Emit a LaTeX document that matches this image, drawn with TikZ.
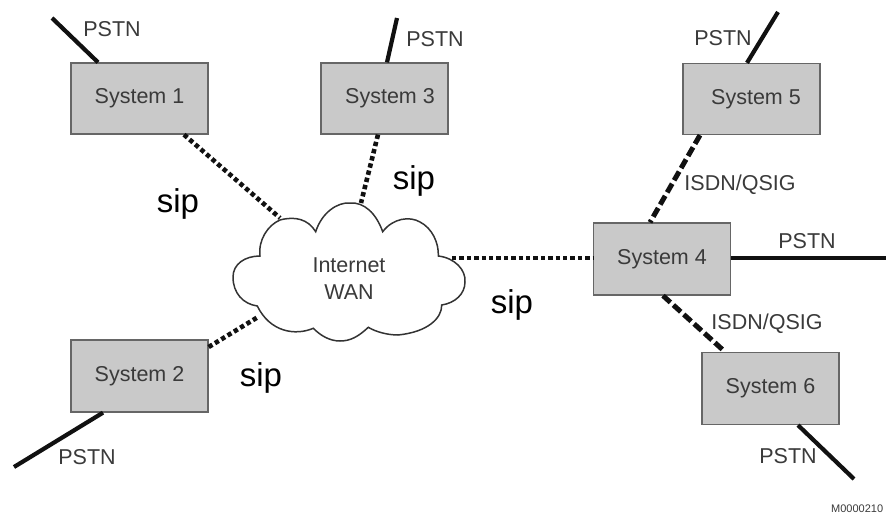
\documentclass[tikz,border=0pt]{standalone}
\usepackage{fontspec}
\setmainfont{Liberation Sans}
\newcommand{\fsz}[1]{\fontsize{#1}{#1}\selectfont}
\tikzset{
  sysbox/.style={draw=boxedge,line width=1.3pt,fill=boxfill,minimum width=#1,inner sep=0pt,text=txt,font=\fsz{21.5}},
  lab/.style={text=txt,font=\fsz{21.5},inner sep=0pt},
  siplab/.style={text=black,font=\fsz{33},inner sep=0pt},
  pstnline/.style={line width=4.2pt,draw=lineblack},
  dotline/.style={line width=4.6pt,draw=lineblack,dash pattern=on 4.4pt off 3pt},
  dashline/.style={line width=5pt,draw=lineblack,dash pattern=on 10pt off 4pt},
  cloudline/.style={draw=cloudedge,line width=1.5pt,fill=white,line join=miter}
}
\definecolor{boxedge}{HTML}{666666}
\definecolor{boxfill}{HTML}{C9C9C9}
\definecolor{txt}{HTML}{3A3A3A}
\definecolor{lineblack}{HTML}{111111}
\definecolor{cloudedge}{HTML}{333333}
\begin{document}
\begin{tikzpicture}[x=1pt,y=-1pt]
\useasboundingbox (0,0) rectangle (886,514);
% free ends
\coordinate (f1) at (52,18);
\coordinate (f3) at (397,18);
\coordinate (f5) at (778,12);
\coordinate (f4) at (886,258);
\coordinate (f6) at (854,479);
\coordinate (f2) at (14,467);
\node[sysbox=137pt,minimum height=71pt] (s1) at (139.5,98.5) {System 1};
\node[sysbox=127pt,minimum height=71pt] (s3) at (384.5,98.5) {\hspace{11pt}System 3};
\node[sysbox=137pt,minimum height=71pt] (s5) at (751.5,99) {\hspace{9pt}System 5};
\node[sysbox=137pt,minimum height=72pt] (s4) at (662,259) {System 4};
\node[sysbox=137pt,minimum height=72pt] (s6) at (770.5,388.5) {System 6};
\node[sysbox=137pt,minimum height=72pt] (s2) at (139.5,376) {System 2};
% cloud
\draw[cloudline] (280,220)
  .. controls (295,216) and (308,219) .. (315.7,231.7)
  .. controls (322,212) and (338,202) .. (350,203)
  .. controls (364,202) and (376,213) .. (382.7,231.7)
  .. controls (393,218) and (410,216) .. (420,222)
  .. controls (432,228) and (439,243) .. (438.3,256)
  .. controls (455,258) and (466,270) .. (465,282)
  .. controls (465,294) and (455,303) .. (441.7,305)
  .. controls (442,318) and (428,332) .. (398,335)
  .. controls (388,335) and (376,332) .. (368.3,327.3)
  .. controls (358,337) and (350,341) .. (340,341)
  .. controls (330,341) and (321,336) .. (313.3,328.3)
  .. controls (295,336) and (270,332) .. (257.3,306)
  .. controls (243,304) and (233,293) .. (233,277)
  .. controls (233,264) and (245,256) .. (260,256)
  .. controls (258,240) and (268,225) .. (280,220) -- cycle;
\node[lab,align=center] (cloud) at (349,278.5) {Internet\\[6pt]WAN};
% connectors
\coordinate (c1) at (280,218);
\coordinate (c3) at (361,203);
\coordinate (c2) at (258,317);
\coordinate (c4) at (452,258);
\draw[dotline] ([xshift=44.5pt]s1.south) -- (c1);
\draw[dotline] ([xshift=-6.5pt]s3.south) -- (c3);
\draw[dotline] ([yshift=29pt]s2.east) -- (c2);
\draw[dotline] (c4) -- ([yshift=1pt]s4.west);
\draw[dashline] ([xshift=-51.5pt]s5.south) -- ([xshift=-12pt]s4.north);
\draw[dashline] ([xshift=1pt]s4.south) -- ([xshift=-45.5pt]s6.north);
\draw[pstnline] (f1) -- ([xshift=-41.5pt]s1.north);
\draw[pstnline] (f3) -- ([xshift=2.5pt]s3.north);
\draw[pstnline] (f5) -- ([xshift=-4.5pt]s5.north);
\draw[pstnline] ([yshift=1pt]s4.east) -- (f4);
\draw[pstnline] ([xshift=27.5pt]s6.south) -- (f6);
\draw[pstnline] ([xshift=-36.5pt]s2.south) -- (f2);
% labels
\node[lab] (p1) at (112,29) {PSTN};
\node[lab] (p3) at (435,39) {PSTN};
\node[lab] (p5) at (723,38) {PSTN};
\node[lab] (p4) at (807,241) {PSTN};
\node[lab] (p6) at (788,456) {PSTN};
\node[lab] (p2) at (87,457) {PSTN};
\node[lab] (i5) at (740,184.5) {ISDN/QSIG};
\node[lab] (i6) at (767,324) {ISDN/QSIG};
\node[siplab] (x1) at (178,204) {sip};
\node[siplab] (x3) at (414,181) {sip};
\node[siplab] (x4) at (512,305) {sip};
\node[siplab] (x2) at (261,378) {sip};
\node[text=txt,font=\fsz{11},inner sep=0pt,anchor=west] (code) at (831,509) {M0000210};
\end{tikzpicture}
\end{document}
